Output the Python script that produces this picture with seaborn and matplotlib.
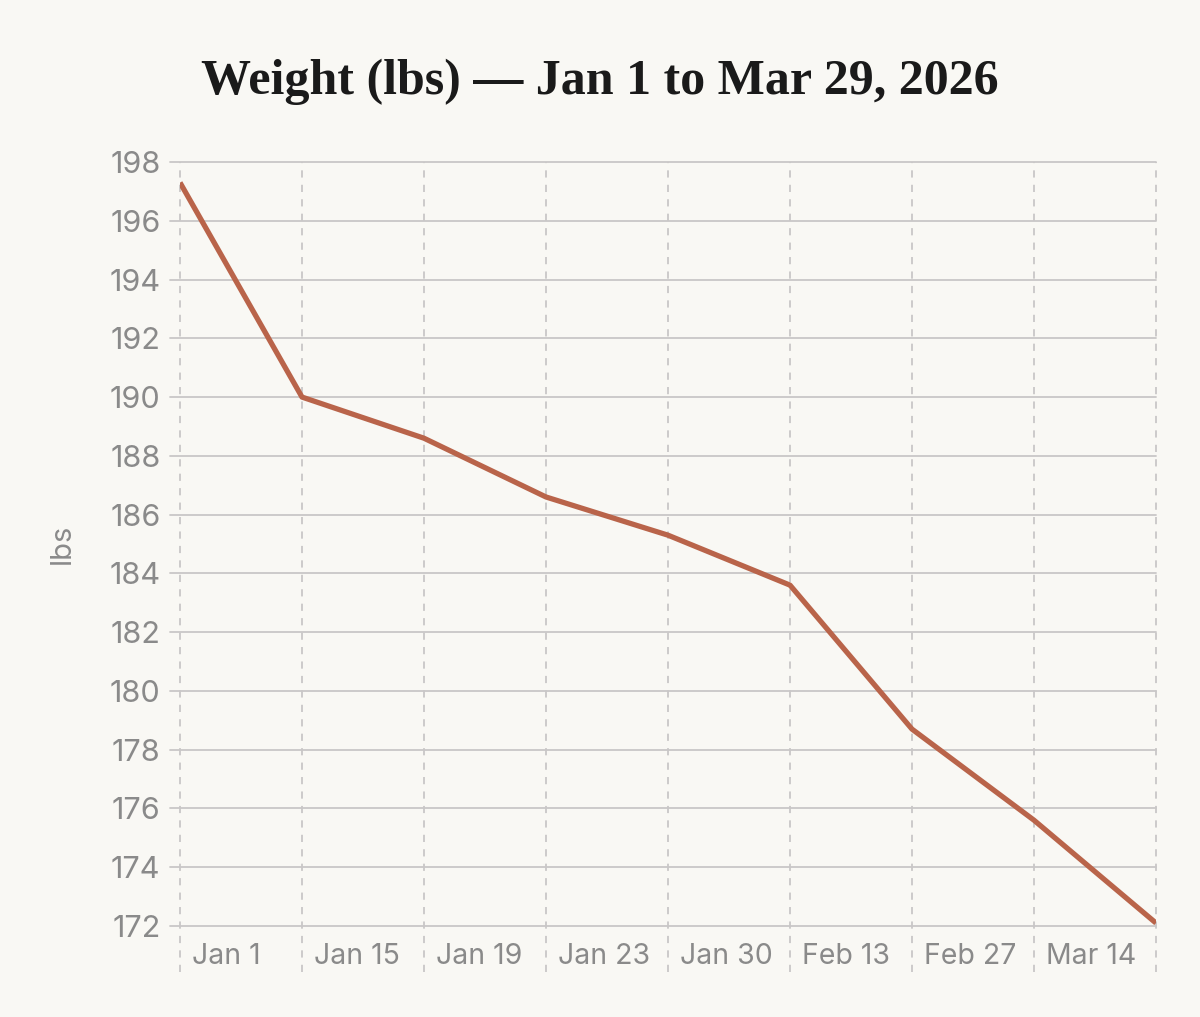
import matplotlib
matplotlib.use("Agg")
import matplotlib.pyplot as plt
import matplotlib.transforms as mtransforms
import seaborn as sns
import pandas as pd

# weigh-ins (point index along the band edges) and category labels
weights = [197.3, 190.0, 188.6, 186.6, 185.3, 183.6, 178.7, 175.6, 172.1]
tick_labels = ["Jan 1", "Jan 15", "Jan 19", "Jan 23", "Jan 30", "Feb 13", "Feb 27", "Mar 14"]
y_ticks = list(range(172, 199, 2))

BG = "#f9f8f4"
GRID = "#c9c7c7"
TEXT = "#8a8a8a"
LINE = "#b9644a"

sns.set_theme(style="white")
plt.rcParams["font.family"] = ["Inter", "DejaVu Sans"]

df = pd.DataFrame({"pos": range(len(weights)), "weight": weights})

fig = plt.figure(figsize=(12, 10.17), dpi=100, facecolor=BG)
ax = fig.add_axes([180 / 1200, 1 - 926 / 1017, (1156 - 180) / 1200, (926 - 162) / 1017])
ax.set_facecolor(BG)

# horizontal grid
for v in y_ticks:
    ax.axhline(v, xmin=-10 / 976, xmax=1, color=GRID, lw=1.3, clip_on=False, zorder=1)
# vertical dashed separators, running below the axis
for i in range(len(weights)):
    ax.axvline(i, ymin=-46 / 764, ymax=1, color=GRID, lw=1.3, ls=(0, (4, 4)),
               clip_on=False, zorder=1)

sns.lineplot(data=df, x="pos", y="weight", color=LINE, lw=3.8, ax=ax, zorder=3,
             solid_capstyle="butt")

ax.set_xlim(0, len(weights) - 1)
ax.set_ylim(172, 198)
ax.set_yticks(y_ticks)
ax.set_yticklabels([str(v) for v in y_ticks])
ax.tick_params(axis="y", length=0, pad=14, labelsize=22, labelcolor=TEXT)

ax.set_xticks(range(len(tick_labels)))
ax.set_xticklabels(tick_labels)
ax.tick_params(axis="x", length=0, pad=12, labelsize=20.5, labelcolor=TEXT)
offset = mtransforms.ScaledTranslation(12 / 100, 0, fig.dpi_scale_trans)
for lab in ax.get_xticklabels():
    lab.set_horizontalalignment("left")
    lab.set_transform(lab.get_transform() + offset)

ax.set_xlabel("")
ax.set_ylabel("lbs", color=TEXT, fontsize=21, labelpad=24)
for s in ax.spines.values():
    s.set_visible(False)

fig.text(0.5, 1 - 82 / 1017, "Weight (lbs) \u2014 Jan 1 to Mar 29, 2026",
         ha="center", va="center", fontsize=36, fontweight="bold",
         family=["Liberation Serif", "DejaVu Serif"], color="#1a1a1a")

fig.savefig("out.png", dpi=100, facecolor=BG)
